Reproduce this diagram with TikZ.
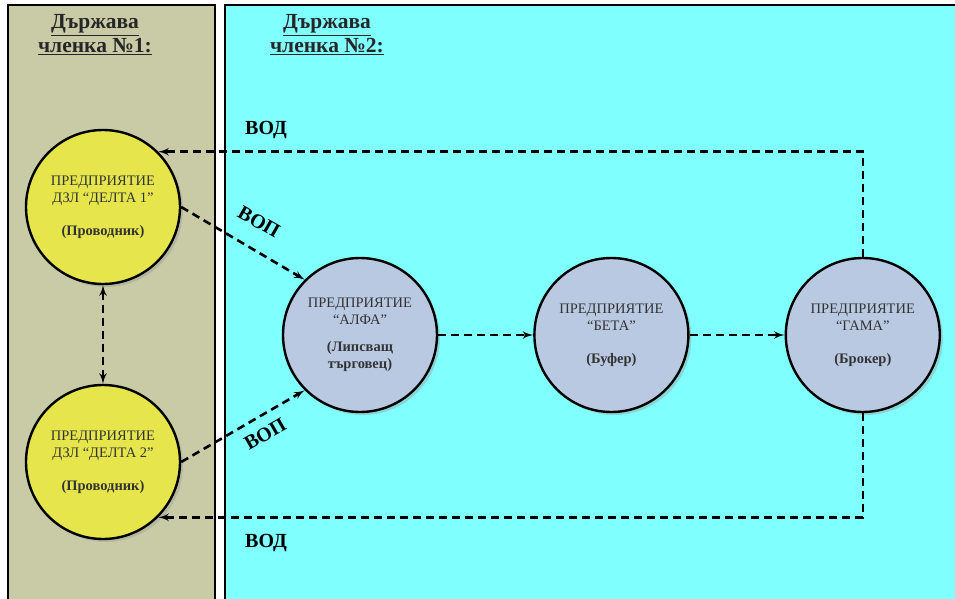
\documentclass[tikz,border=0pt]{standalone}
\usepackage{fontspec}
\setmainfont{Liberation Serif}
\usetikzlibrary{shapes,arrows,positioning,shadows}

\definecolor{stateone}{HTML}{C8CBA6}
\definecolor{statetwo}{HTML}{80FFFF}
\definecolor{conductor}{HTML}{E6E64C}
\definecolor{trader}{HTML}{B9C9E2}

\begin{document}
\begin{tikzpicture}[x=1pt, y=-1pt, node distance=95pt]
  \tikzset{
    panel/.style={draw=black, line width=2.4pt},
    title/.style={draw=none, align=center, font=\fontsize{21.5}{24}\selectfont\bfseries, text=black!85},
    firm/.style={circle, draw=black, line width=2.4pt, minimum size=154pt, inner sep=0pt,
      align=center, text=black!80, font=\fontsize{14.5}{17}\selectfont,
      drop shadow={shadow xshift=3pt, shadow yshift=-3pt, fill=black!40, opacity=.4}},
    flow/.style={draw=none, font=\fontsize{20}{22}\selectfont\bfseries},
    myarrow/.style={->, >=latex', line width=2.6pt, dash pattern=on 8pt off 5pt},
  }

  \useasboundingbox (0,0) rectangle (955,599);
  \fill[white] (0,0) rectangle (955,599);

  % the two member states
  \filldraw[panel, fill=stateone] (8,5) rectangle (215,620);
  \filldraw[panel, fill=statetwo] (225,5) rectangle (975,620);
  \node[title] (state1) at (95,35) {\underline{Държава}\\\underline{членка №1:}};
  \node[title] (state2) at (327,35) {\underline{Държава}\\\underline{членка №2:}};

  % firms
  \node[firm, fill=conductor] (delta1) at (103,207)
    {ПРЕДПРИЯТИЕ\\ДЗЛ “ДЕЛТА 1”\\[16pt]\textbf{(Проводник)}};
  \node[firm, fill=conductor] (delta2) at (103,462)
    {ПРЕДПРИЯТИЕ\\ДЗЛ “ДЕЛТА 2”\\[16pt]\textbf{(Проводник)}};
  \node[firm, fill=trader] (alfa) at (360,335)
    {ПРЕДПРИЯТИЕ\\“АЛФА”\\[10pt]\textbf{(Липсващ}\\\textbf{търговец)}};
  \node[firm, fill=trader] (beta) [right=of alfa]
    {ПРЕДПРИЯТИЕ\\“БЕТА”\\[16pt]\textbf{(Буфер)}};
  \node[firm, fill=trader] (gama) [right=of beta]
    {ПРЕДПРИЯТИЕ\\“ГАМА”\\[16pt]\textbf{(Брокер)}};

  % supplies
  \draw[myarrow] (delta1.east) -- (alfa.135);
  \draw[myarrow] (delta2.east) -- (alfa.-135);
  \draw[myarrow] (alfa) -- (beta);
  \draw[myarrow] (beta) -- (gama);
  \draw[myarrow] (gama.north) |- (delta1.45);
  \draw[myarrow] (gama.south) |- (delta2.-45);
  \draw[myarrow, <->] (delta1.south) -- (delta2.north);

  \node[flow] (vod1) at (266,130) {ВОД};
  \node[flow, rotate=-30] (vop1) at (259,222) {ВОП};
  \node[flow, rotate=30] (vop2) at (265,434) {ВОП};
  \node[flow] (vod2) at (266,543) {ВОД};

\end{tikzpicture}
\end{document}
